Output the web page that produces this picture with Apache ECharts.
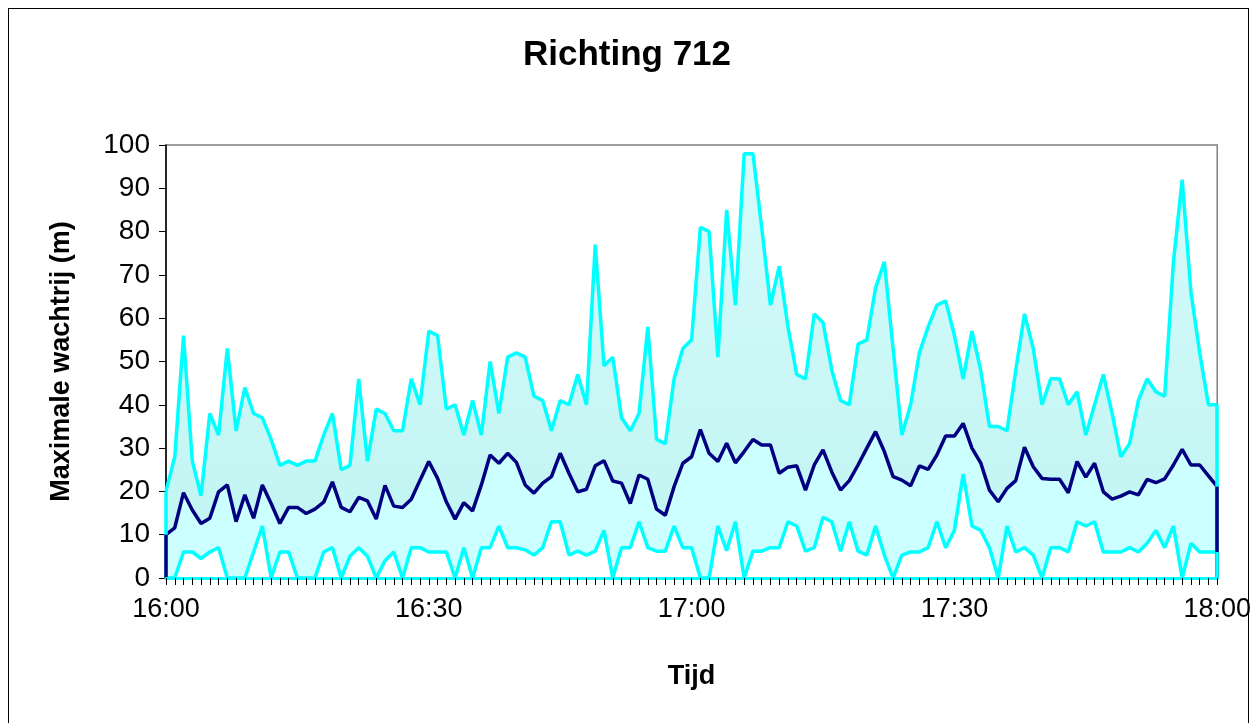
<!DOCTYPE html>
<html>
<head>
<meta charset="utf-8">
<script src="https://cdn.jsdelivr.net/npm/echarts@6/dist/echarts.min.js"></script>
<style>
html,body{margin:0;padding:0;background:#fff;}
#chart{width:1254px;height:723px;}
#frame{position:absolute;left:8px;top:8px;width:1239px;height:760px;border:1px solid #000;pointer-events:none;}
</style>
</head>
<body>
<div id="chart"></div>
<div id="frame"></div>
<script>
// Data (one value per minute, 16:00 .. 18:00)
const tickLabels = ["16:00", "16:30", "17:00", "17:30", "18:00"];
const categories = [];
for (let h = 16; h <= 18; h++) {
  for (let m = 0; m < 60; m++) {
    if (h === 18 && m > 0) break;
    categories.push(h + ":" + (m < 10 ? "0" + m : "" + m));
  }
}
const maxQueue = [20,28,56,27,19,38,33,53,34,44,38,37,32,26,27,26,27,27,33,38,
  25,26,46,27,39,38,34,34,46,40,57,56,39,40,33,41,33,50,38,51,
  52,51,42,41,34,41,40,47,40,77,49,51,37,34,38,58,32,31,46,53,
  55,81,80,51,85,63,98,98,81,63,72,58,47,46,61,59,48,41,40,54,
  55,67,73,53,33,40,52,58,63,64,56,46,57,48,35,35,34,48,61,53,
  40,46,46,40,43,33,40,47,38,28,31,41,46,43,42,73,92,66,52,40,40];
const meanQueue = [10,11.6,19.7,15.7,12.6,13.8,19.9,21.5,13,19.2,13.8,21.5,17.2,12.6,16.3,16.3,14.9,15.9,17.5,22.2,
  16.3,15.3,18.6,17.8,13.6,21.4,16.6,16.3,18.2,22.6,26.9,23,17.6,13.6,17.4,15.5,21.5,28.4,26.5,28.8,
  26.7,21.5,19.6,21.9,23.4,28.8,24.2,19.9,20.5,25.9,27.1,22.4,21.9,17.2,23.8,22.8,15.9,14.5,21.1,26.5,
  28,34.3,28.8,26.9,31.1,26.6,29.2,32,30.7,30.7,24.2,25.6,25.9,20.3,26.1,29.6,24.5,20.3,22.5,26.1,
  30,33.8,29.2,23.4,22.6,21.3,25.9,25.1,28.4,32.8,32.8,35.7,30,26.6,20.3,17.6,20.7,22.5,30.2,25.7,
  23,22.8,22.8,19.7,26.9,23.3,26.5,19.9,18.2,18.9,19.9,19.2,22.8,22,22.9,26.1,29.7,26.1,26.1,23.6,21.1];
const minQueue = [0,0,6,6,4.5,6,7,0,0,0,6,12,0,6,6,0,0,0,6,7,
  0,5,7,5,0,4,6,0,7,7,6,6,6,0,7,0,7,7,12,7,
  7,6.5,5.3,7,13,13,5.3,6.2,5.3,6.2,11,0,7,7,13,7,6.2,6.2,12,7,
  7,0,0,12,6.3,13,0,6.2,6.2,7,7,13,12,6.2,7,14,13,6.2,13,6.2,
  5.3,12,5.3,0,5.3,6,6,7,13,7,11,24,12,11,7,0,12,6,7,5.3,
  0,7,7,6,13,12,13,6,6,6,7,6,8,11,7,12,0,8,6,6,6];

const FONT = "'Liberation Sans', Arial, sans-serif";
const LW = 3.5;
const last = categories.length - 1;
function edges(arr, color) {
  return {
    silent: true, symbol: 'none', label: {show: false}, animation: false,
    lineStyle: {color: color, width: LW, type: 'solid'},
    data: [
      [{coord: [0, arr[0]]}, {coord: [0, 0]}],
      [{coord: [last, arr[last]]}, {coord: [last, 0]}]
    ]
  };
}

const chart = echarts.init(document.getElementById('chart'));
chart.setOption({
  animation: false,
  backgroundColor: '#ffffff',
  title: {
    text: 'Richting 712', left: 'center', top: 33,
    textStyle: {fontFamily: FONT, fontSize: 35, fontWeight: 'bold', color: '#000'}
  },
  grid: {left: 166, right: 36, top: 145, bottom: 145, show: true, borderColor: '#808080', borderWidth: 1.5, backgroundColor: 'transparent'},
  xAxis: {
    type: 'category', data: categories, boundaryGap: false, z: 10,
    name: 'Tijd', nameLocation: 'middle', nameGap: 85,
    nameTextStyle: {fontFamily: FONT, fontSize: 27, fontWeight: 'bold', color: '#000'},
    axisLine: {show: true, lineStyle: {color: '#00ffff', width: 3}},
    axisTick: {show: true, interval: 0, length: 7, lineStyle: {color: '#000', width: 1}},
    axisLabel: {
      interval: function (idx, val) { return tickLabels.indexOf(val) >= 0; },
      fontFamily: FONT, fontSize: 27, color: '#000', margin: 18
    },
    splitLine: {show: false}
  },
  yAxis: {
    type: 'value', min: 0, max: 100, interval: 10,
    name: 'Maximale wachtrij (m)', nameLocation: 'middle', nameGap: 91, nameRotate: 90,
    nameTextStyle: {fontFamily: FONT, fontSize: 27, fontWeight: 'bold', color: '#000'},
    axisLine: {show: true, lineStyle: {color: '#000', width: 1.5}},
    axisTick: {show: true, length: 7, lineStyle: {color: '#000', width: 1}},
    axisLabel: {fontFamily: FONT, fontSize: 28, color: '#000', margin: 16},
    splitLine: {show: false}
  },
  series: [
    {
      name: 'max', type: 'line', data: maxQueue, z: 2, showSymbol: false, symbol: 'none',
      lineStyle: {color: '#00ffff', width: LW}, itemStyle: {color: '#00ffff'},
      areaStyle: {opacity: 1, color: new echarts.graphic.LinearGradient(0, 0, 0, 1, [
        {offset: 0, color: '#d6fbfb'}, {offset: 1, color: '#bff4f2'}])},
      markLine: edges(maxQueue, '#00ffff')
    },
    {
      name: 'gem', type: 'line', data: meanQueue, z: 3, showSymbol: false, symbol: 'none',
      lineStyle: {color: '#000080', width: LW}, itemStyle: {color: '#000080'},
      areaStyle: {opacity: 1, color: '#ccffff'},
      markLine: edges(meanQueue, '#000080')
    },
    {
      name: 'min', type: 'line', data: minQueue, z: 4, showSymbol: false, symbol: 'none',
      lineStyle: {color: '#00ffff', width: LW}, itemStyle: {color: '#00ffff'},
      areaStyle: {opacity: 1, color: '#ffffff'},
      markLine: edges(minQueue, '#00ffff')
    }
  ]
});
</script>
</body>
</html>
